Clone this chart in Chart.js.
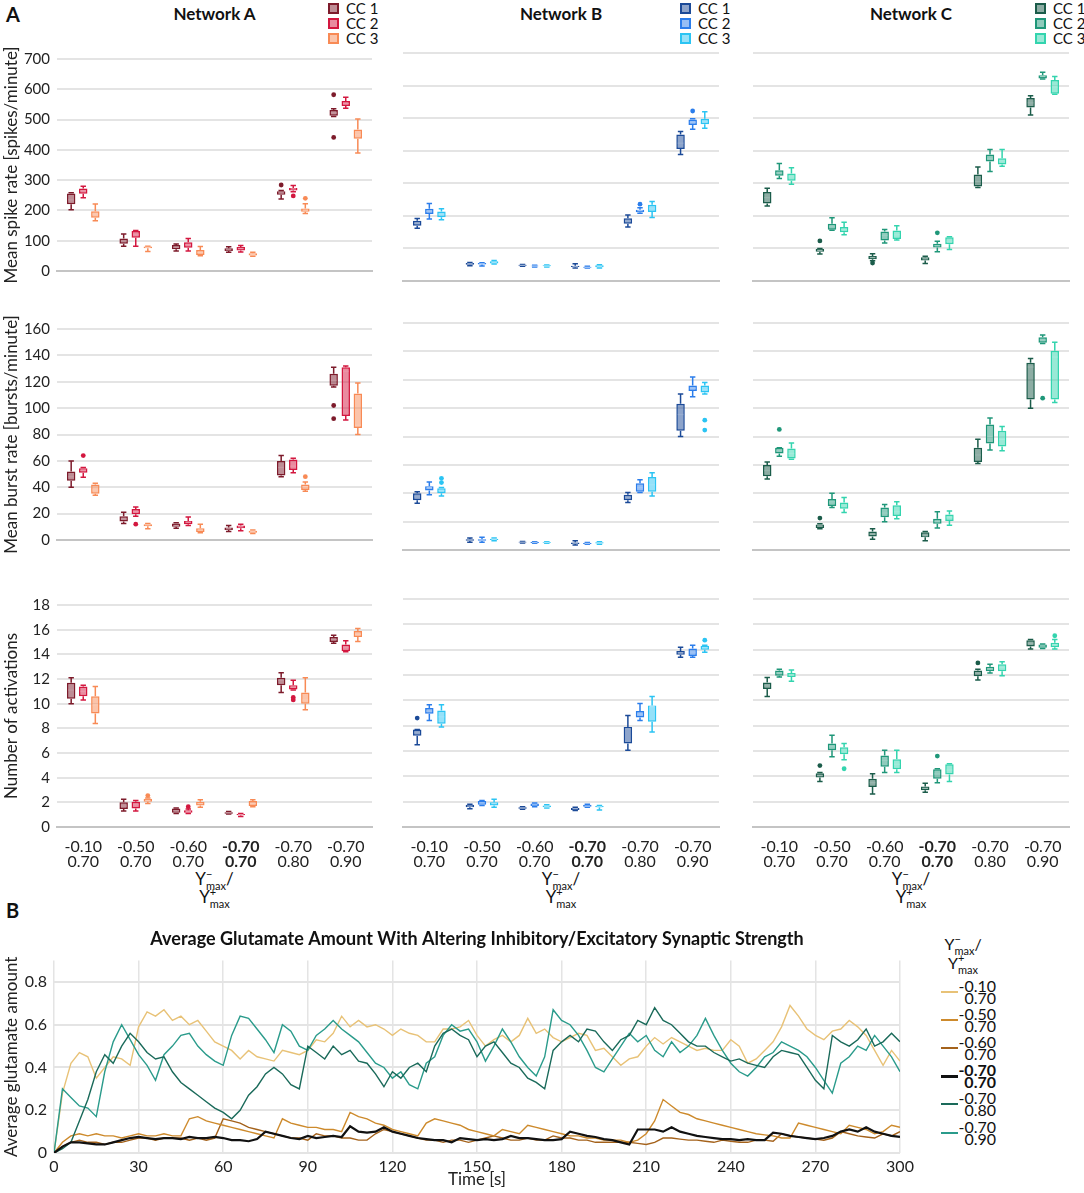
<!DOCTYPE html>
<html>
<head>
<meta charset="utf-8">
<script src="https://cdn.jsdelivr.net/npm/chart.js@4.4.0/dist/chart.umd.min.js"></script>
<style>
  body { margin: 0; background: #fff; font-family: Lato, 'DejaVu Sans', sans-serif; color: #111; }
  #page { position: relative; width: 1084px; height: 1193px; overflow: hidden; }
  #page canvas, #page .abs { position: absolute; }
  .letter { font-size: 20px; font-weight: bold; }
  .net { width: 200px; text-align: center; font-size: 17px; font-weight: bold; }
  .ccleg { font-size: 15px; line-height: 15px; width: 60px; }
  .ccleg div { height: 15px; white-space: nowrap; }
  .ccleg span { display: inline-block; width: 7px; height: 7px; border: 2px solid; margin-right: 7px; vertical-align: 0; }
  .ratio { width: 120px; text-align: center; font-size: 17px; line-height: 18px; }
  .yl { position: relative; display: inline-block; }
  .yl i { position: absolute; left: 100%; top: -5px; font-style: normal; font-size: 11px; }
  sub { font-size: 11px; vertical-align: -5px; line-height: 0; }
  .gleg { font-size: 16px; }
  .gleg .row { position: absolute; left: 0; width: 80px; height: 26px; }
  .gleg .ln { position: absolute; left: 0; top: 12px; width: 17px; height: 2px; }
  .gleg .tx { position: absolute; left: 17px; width: 38px; text-align: right; line-height: 12px; top: 1px; }
</style>
</head>
<body>
<div id="page"></div>
<script>
/* ── categories & names ── */
const ratioLabels = [['-0.10', '0.70'], ['-0.50', '0.70'], ['-0.60', '0.70'], ['-0.70', '0.70'], ['-0.70', '0.80'], ['-0.70', '0.90']];
const ccNames = ['CC 1', 'CC 2', 'CC 3'];
const networkNames = ['Network A', 'Network B', 'Network C'];
const rowTitles = ['Mean spike rate [spikes/minute]', 'Mean burst rate [bursts/minute]', 'Number of activations'];
const rowMax = [700, 160, 18];
const rowStep = [100, 20, 2];

/* ── box summaries [min, q1, median, q3, max], per CC, per ratio ── */
const spikeA = [
  [[202,220,235,256,258], [82,90,99,107,122], [66,72,78,86,89], [62,66,70,75,80], [238,252,258,263,266], [510,513,522,532,536]],
  [[242,255,265,272,280], [82,110,120,132,134], [66,77,87,95,107], [63,68,74,79,84], [262,266,271,274,282], [537,545,553,561,574]],
  [[166,176,188,197,221], [64,75,78,81,82], [50,53,61,69,81], [49,51,55,59,62], [190,196,201,206,222], [390,437,450,467,502]]
];
const spikeAOut = [[[],[],[],[],[284],[582,441]], [[],[],[],[],[248],[]], [[],[],[],[],[240],[]]];

const spikeB = [
  [[162,170,177,185,192], [47,50,53,55,57], [45,47,48,50,51], [40,43,44,47,53], [166,176,184,193,203], [388,405,423,450,459]],
  [[190,206,214,222,238], [46,51,53,55,56], [43,45,46,47,48], [40,41,42,44,45], [208,211,216,219,225], [466,479,487,496,498]],
  [[188,196,204,213,222], [52,54,57,61,63], [43,45,46,48,49], [40,42,45,48,50], [195,212,222,234,244], [469,481,489,498,520]]
];
const spikeBOut = [[[],[],[],[],[],[]], [[],[],[],[],[236],[522]], [[],[],[],[],[],[]]];

const spikeC = [
  [[230,238,256,273,285], [83,90,94,98,100], [62,67,72,77,84], [54,63,68,73,76], [287,290,305,327,350], [510,533,547,562,569]],
  [[315,323,332,340,361], [156,157,168,176,194], [117,124,140,152,158], [90,103,108,114,122], [336,367,376,388,404], [620,622,628,632,641]],
  [[297,308,320,330,348], [142,150,158,166,180], [126,129,142,155,170], [97,113,122,134,136], [352,358,369,377,404], [573,575,596,617,628]]
];
const spikeCOut = [[[],[123],[55],[],[],[]], [[],[],[],[148],[],[]], [[],[],[],[],[],[]]];

const burstA = [
  [[40,45,48,52,60], [12.5,14,16,18,21], [9,10,11,12.5,13], [6.5,7.5,8.5,9.5,11], [48,49,55,60,64], [116,117,121,126,131]],
  [[47.5,51,53,54.5,55], [18,19.5,21.5,23.5,25], [11,12,13.5,14.5,17.5], [7,9,10,11,12], [51,53,56,61,62], [91,94,128,131,132]],
  [[34,35,38,42,43], [8.5,10.5,11.5,12,12.5], [5.5,6,7.5,9,12], [5,5.5,6.5,7,7.5], [37,38,40.5,42,44], [80,85,87,111,119]]
];
const burstAOut = [[[],[],[],[],[],[102,92]], [[64],[12],[],[],[],[]], [[],[],[],[],[48],[]]];

const burstB = [
  [[33,35,37.5,40,41], [5.5,6.5,7,7.5,8.5], [5,5.2,5.5,5.8,6], [3.5,4.2,4.8,5.2,6.5], [33.5,35,37,39,40.5], [80,84,95.5,103,110]],
  [[39,42,44,45,48], [5.5,6.5,7,7.5,9], [4.8,5,5.3,5.6,5.8], [4,4.3,4.6,5,5.2], [40.5,41,44,47,49.5], [108,112,114,116,122]],
  [[38,40,42,43.5,44], [6.5,7,7.5,8,8.5], [4.8,5,5.3,5.5,5.8], [4,4.5,5,5.5,5.8], [38,41,46,51.5,54.5], [110,111,113,116,118]]
];
const burstBOut = [[[],[],[],[],[],[]], [[],[],[],[],[],[]], [[50.5,47.5],[],[],[],[],[91.5,84.5]]];

const burstC = [
  [[50,52,56,60,62], [15,15.5,17,18,18.5], [7.5,9.5,11,13,15], [6.5,9,10,12.5,13], [61,62,67,72,78], [100,106,129,132,135]],
  [[66,68,70,72,72], [30,31,34,36,40], [20,23,26,30,32], [15.5,18.5,20,22,27], [70.5,75,80,88.5,93], [145.5,146,148,150,151.5]],
  [[64,64.5,68,71.5,75.5], [26.5,29,31,33.5,37], [22,24,27,31.5,34], [17.5,20.5,23,25,27.5], [70,73,78,84,87], [104,106,136,140.5,146.5]]
];
const burstCOut = [[[],[22.5],[],[],[],[]], [[85],[],[],[],[],[107]], [[],[],[],[],[],[]]];

const actA = [
  [[10,10.4,11.1,11.7,12.1], [1.3,1.45,1.7,2,2.25], [1.1,1.15,1.3,1.5,1.55], [1.05,1.07,1.15,1.2,1.25], [10.9,11.5,11.9,12.1,12.5], [14.9,15,15.2,15.4,15.55]],
  [[10.3,10.6,11,11.4,11.5], [1.3,1.5,1.8,2.05,2.15], [1.1,1.15,1.25,1.35,1.45], [0.85,0.95,1,1.05,1.1], [11.1,11.15,11.35,11.5,11.9], [14.2,14.25,14.55,14.8,15.1]],
  [[8.4,9.2,9.9,10.6,11.4], [1.9,2.05,2.15,2.3,2.35], [1.6,1.75,1.9,2.05,2.2], [1.65,1.7,1.9,2.1,2.2], [9.5,10,10.3,10.9,12.1], [15.05,15.4,15.6,15.9,16.1]]
];
const actAOut = [[[],[],[],[],[],[]], [[],[],[1.65],[],[10.5,10.3],[]], [[],[2.55],[],[],[],[]]];

const actB = [
  [[6.5,7.2,7.45,7.7,7.7], [1.45,1.55,1.65,1.75,1.8], [1.4,1.45,1.5,1.55,1.6], [1.3,1.35,1.45,1.5,1.55], [6.05,6.6,7.75,7.9,8.8], [13.4,13.6,13.75,13.9,14.2]],
  [[8.4,8.95,9.15,9.4,9.65], [1.7,1.75,1.9,2.05,2.1], [1.6,1.65,1.75,1.85,1.9], [1.55,1.6,1.65,1.75,1.8], [8.4,8.65,8.9,9.15,9.75], [13.4,13.5,13.8,14.1,14.35]],
  [[7.9,8.15,8.7,9.2,9.65], [1.55,1.7,1.85,1.95,2.2], [1.5,1.55,1.6,1.7,1.75], [1.35,1.55,1.6,1.65,1.7], [7.5,8.3,9.5,9.6,10.3], [13.8,14,14.15,14.3,14.35]]
];
const actBOut = [[[8.6],[],[],[],[],[]], [[],[],[],[],[],[]], [[],[],[],[],[],[14.75]]];

const actC = [
  [[10.3,10.9,11.15,11.4,11.8], [3.6,3.9,4.05,4.25,4.3], [2.6,3.15,3.5,3.8,4.2], [2.75,2.9,3.05,3.2,3.45], [11.6,11.9,12.15,12.35,12.45], [14.05,14.25,14.5,14.75,14.8]],
  [[11.85,11.95,12.15,12.35,12.45], [5.55,6.05,6.35,6.6,7.25], [4.3,4.75,5.25,5.65,6.05], [3.5,3.8,4.2,4.55,4.6], [12.15,12.3,12.5,12.65,12.85], [14.1,14.15,14.3,14.4,14.45]],
  [[11.5,11.85,12,12.15,12.4], [5.3,5.75,6,6.3,6.6], [4.3,4.55,4.95,5.35,6.05], [3.6,4.15,4.5,4.95,5], [11.95,12.3,12.6,12.85,13.05], [14.05,14.2,14.4,14.55,14.8]]
];
const actCOut = [[[],[4.85],[],[],[12.95],[]], [[],[],[],[5.6],[],[]], [[],[4.6],[],[],[],[15.1]]];

/* ── glutamate traces, one sample every 3 s from 0 to 300 s ── */
const sampleStep = 3;
const glutTicks = [0, 0.2, 0.4, 0.6, 0.8];
const glutLabels = [['-0.10', '0.70'], ['-0.50', '0.70'], ['-0.60', '0.70'], ['-0.70', '0.70'], ['-0.70', '0.80'], ['-0.70', '0.90']];
const glutM10 = [
  0, 0.28, 0.42, 0.47, 0.45, 0.35, 0.40, 0.45, 0.44, 0.41,
  0.59, 0.66, 0.64, 0.67, 0.62, 0.64, 0.60, 0.62, 0.57, 0.52,
  0.50, 0.48, 0.44, 0.48, 0.45, 0.44, 0.43, 0.48, 0.47, 0.46,
  0.48, 0.53, 0.52, 0.56, 0.64, 0.59, 0.62, 0.59, 0.60, 0.58,
  0.55, 0.58, 0.56, 0.55, 0.52, 0.52, 0.58, 0.58, 0.59, 0.62,
  0.55, 0.50, 0.53, 0.55, 0.52, 0.55, 0.63, 0.56, 0.58, 0.54,
  0.52, 0.54, 0.56, 0.55, 0.48, 0.49, 0.45, 0.41, 0.44, 0.45,
  0.50, 0.54, 0.51, 0.54, 0.52, 0.50, 0.48, 0.49, 0.48, 0.48,
  0.53, 0.50, 0.42, 0.44, 0.48, 0.52, 0.59, 0.69, 0.64, 0.58,
  0.55, 0.53, 0.57, 0.58, 0.62, 0.59, 0.55, 0.48, 0.41, 0.48,
  0.43
];
const glutM50 = [
  0, 0.05, 0.08, 0.09, 0.08, 0.09, 0.08, 0.08, 0.07, 0.08,
  0.09, 0.08, 0.08, 0.09, 0.08, 0.08, 0.16, 0.17, 0.15, 0.14,
  0.13, 0.12, 0.11, 0.10, 0.09, 0.08, 0.07, 0.16, 0.14, 0.13,
  0.12, 0.12, 0.11, 0.11, 0.10, 0.19, 0.17, 0.16, 0.14, 0.13,
  0.11, 0.10, 0.09, 0.08, 0.14, 0.16, 0.15, 0.14, 0.13, 0.11,
  0.10, 0.09, 0.08, 0.11, 0.10, 0.09, 0.13, 0.12, 0.11, 0.10,
  0.09, 0.08, 0.08, 0.07, 0.07, 0.06, 0.06, 0.06, 0.05, 0.06,
  0.09, 0.15, 0.25, 0.22, 0.19, 0.18, 0.16, 0.15, 0.14, 0.13,
  0.12, 0.11, 0.10, 0.09, 0.085, 0.08, 0.07, 0.07, 0.14, 0.13,
  0.12, 0.11, 0.10, 0.09, 0.13, 0.12, 0.11, 0.09, 0.10, 0.13,
  0.12
];
const glutM60 = [
  0, 0.03, 0.05, 0.06, 0.05, 0.05, 0.04, 0.05, 0.05, 0.06,
  0.07, 0.07, 0.06, 0.07, 0.07, 0.07, 0.06, 0.07, 0.06, 0.07,
  0.16, 0.15, 0.14, 0.12, 0.11, 0.10, 0.09, 0.08, 0.07, 0.07,
  0.06, 0.09, 0.08, 0.08, 0.07, 0.07, 0.06, 0.06, 0.09, 0.11,
  0.10, 0.09, 0.08, 0.07, 0.06, 0.06, 0.05, 0.06, 0.06, 0.05,
  0.06, 0.07, 0.08, 0.07, 0.06, 0.06, 0.07, 0.06, 0.06, 0.08,
  0.07, 0.07, 0.06, 0.06, 0.05, 0.05, 0.05, 0.05, 0.05, 0.045,
  0.04, 0.05, 0.07, 0.07, 0.065, 0.06, 0.06, 0.055, 0.05, 0.06,
  0.055, 0.05, 0.05, 0.06, 0.06, 0.055, 0.09, 0.08, 0.075, 0.07,
  0.065, 0.06, 0.07, 0.10, 0.09, 0.08, 0.075, 0.07, 0.09, 0.08,
  0.10
];
const glutM70 = [
  0, 0.03, 0.05, 0.05, 0.045, 0.04, 0.04, 0.05, 0.06, 0.07,
  0.075, 0.07, 0.065, 0.07, 0.07, 0.065, 0.075, 0.07, 0.07, 0.075,
  0.07, 0.06, 0.06, 0.055, 0.065, 0.10, 0.09, 0.08, 0.07, 0.065,
  0.08, 0.07, 0.075, 0.08, 0.075, 0.125, 0.10, 0.095, 0.10, 0.12,
  0.10, 0.09, 0.08, 0.07, 0.065, 0.06, 0.06, 0.05, 0.07, 0.065,
  0.06, 0.065, 0.06, 0.065, 0.08, 0.07, 0.07, 0.065, 0.06, 0.06,
  0.065, 0.10, 0.09, 0.08, 0.075, 0.065, 0.06, 0.05, 0.04, 0.11,
  0.11, 0.11, 0.10, 0.12, 0.10, 0.09, 0.08, 0.075, 0.07, 0.065,
  0.065, 0.06, 0.065, 0.06, 0.06, 0.095, 0.09, 0.08, 0.075, 0.07,
  0.065, 0.07, 0.08, 0.10, 0.11, 0.10, 0.12, 0.10, 0.09, 0.08,
  0.075
];
const glutM70p80 = [
  0, 0.02, 0.05, 0.15, 0.25, 0.38, 0.46, 0.42, 0.50, 0.56,
  0.52, 0.47, 0.44, 0.45, 0.38, 0.33, 0.30, 0.27, 0.24, 0.21,
  0.19, 0.16, 0.20, 0.27, 0.31, 0.37, 0.40, 0.37, 0.32, 0.30,
  0.50, 0.47, 0.44, 0.50, 0.46, 0.48, 0.43, 0.42, 0.37, 0.31,
  0.38, 0.35, 0.40, 0.42, 0.38, 0.50, 0.56, 0.58, 0.55, 0.53,
  0.45, 0.50, 0.52, 0.47, 0.42, 0.40, 0.35, 0.33, 0.30, 0.48,
  0.52, 0.55, 0.52, 0.58, 0.57, 0.52, 0.48, 0.53, 0.55, 0.62,
  0.60, 0.68, 0.62, 0.60, 0.56, 0.52, 0.50, 0.50, 0.47, 0.45,
  0.43, 0.44, 0.42, 0.41, 0.40, 0.45, 0.48, 0.47, 0.46, 0.40,
  0.34, 0.30, 0.55, 0.52, 0.50, 0.53, 0.58, 0.50, 0.52, 0.56,
  0.52
];
const glutM70p90 = [
  0, 0.30, 0.26, 0.22, 0.21, 0.17, 0.38, 0.52, 0.60, 0.53,
  0.46, 0.41, 0.34, 0.46, 0.50, 0.55, 0.56, 0.50, 0.46, 0.43,
  0.41, 0.55, 0.64, 0.63, 0.58, 0.53, 0.47, 0.60, 0.57, 0.50,
  0.48, 0.55, 0.58, 0.62, 0.58, 0.55, 0.52, 0.47, 0.42, 0.40,
  0.35, 0.38, 0.32, 0.30, 0.42, 0.45, 0.55, 0.60, 0.57, 0.58,
  0.52, 0.43, 0.50, 0.58, 0.52, 0.45, 0.40, 0.36, 0.45, 0.67,
  0.62, 0.60, 0.55, 0.48, 0.40, 0.38, 0.44, 0.50, 0.56, 0.52,
  0.55, 0.48, 0.45, 0.52, 0.47, 0.50, 0.55, 0.63, 0.55, 0.48,
  0.42, 0.38, 0.36, 0.40, 0.45, 0.47, 0.52, 0.50, 0.48, 0.45,
  0.40, 0.34, 0.28, 0.42, 0.45, 0.50, 0.48, 0.55, 0.50, 0.45,
  0.38
];

/* ── styling / layout ── */
const netColors = [
  ['#7D1B2B', '#D3173F', '#F88A55'],
  ['#1B4A98', '#2B7DEB', '#2BC4F3'],
  ['#1B5C4A', '#1F9779', '#33D4AE']
];
const glutColors = ['#E8C277', '#CD8A2C', '#A4621B', '#111111', '#1A6A5A', '#2A9B8B'];
const colPlot = [[57, 372], [403, 719], [753, 1069]];
const rowPlot = [[53, 281], [323, 550], [599, 827]];

Chart.defaults.font.family = "Lato, 'DejaVu Sans', sans-serif";
Chart.defaults.color = '#222';

const page = document.getElementById('page');
function addDiv(cls, style, html) {
  const d = document.createElement('div');
  d.className = 'abs ' + cls;
  Object.assign(d.style, style);
  d.innerHTML = html;
  page.appendChild(d);
  return d;
}
function addCanvas(left, top, w, h) {
  const c = document.createElement('canvas');
  c.width = w; c.height = h;
  Object.assign(c.style, { left: left + 'px', top: top + 'px', width: w + 'px', height: h + 'px' });
  page.appendChild(c);
  return c;
}
const rgba = (hex, a) => {
  const n = parseInt(hex.slice(1), 16);
  return `rgba(${n >> 16},${(n >> 8) & 255},${n & 255},${a})`;
};
const tint = (hex, t) => {
  const n = parseInt(hex.slice(1), 16);
  const m = v => Math.round(v + (255 - v) * t);
  return `rgb(${m(n >> 16)},${m((n >> 8) & 255)},${m(n & 255)})`;
};
const yMaxHtml = (sign) => `<span class="yl">Y<i>${sign}</i></span><sub>max</sub>`;

/* whiskers, caps, medians and outliers on top of the floating bars */
const boxPlugin = {
  id: 'boxWhiskers',
  afterDatasetsDraw(chart) {
    const { ctx } = chart;
    const y = chart.scales.y;
    chart.data.datasets.forEach((ds, i) => {
      chart.getDatasetMeta(i).data.forEach((bar, j) => {
        const [lo, q1, med, q3, hi] = ds.stats[j];
        const x = bar.x, half = bar.width / 2, cap = bar.width * 0.32;
        ctx.save();
        ctx.strokeStyle = ds.borderColor;
        ctx.lineWidth = 1.5;
        ctx.beginPath();
        ctx.moveTo(x, y.getPixelForValue(q3)); ctx.lineTo(x, y.getPixelForValue(hi));
        ctx.moveTo(x - cap, y.getPixelForValue(hi)); ctx.lineTo(x + cap, y.getPixelForValue(hi));
        ctx.moveTo(x, y.getPixelForValue(q1)); ctx.lineTo(x, y.getPixelForValue(lo));
        ctx.moveTo(x - cap, y.getPixelForValue(lo)); ctx.lineTo(x + cap, y.getPixelForValue(lo));
        ctx.stroke();
        ctx.strokeStyle = ds.medianColor;
        ctx.lineWidth = 1.3;
        ctx.beginPath();
        ctx.moveTo(x - half + 1.5, y.getPixelForValue(med)); ctx.lineTo(x + half - 1.5, y.getPixelForValue(med));
        ctx.stroke();
        ctx.fillStyle = ds.borderColor;
        ds.outliers[j].forEach(v => {
          ctx.beginPath();
          ctx.arc(x, y.getPixelForValue(v), 2.4, 0, Math.PI * 2);
          ctx.fill();
        });
        ctx.restore();
      });
    });
  }
};

/* ── panel A: 3 × 3 box plots ── */
const panelStats = [[spikeA, spikeB, spikeC], [burstA, burstB, burstC], [actA, actB, actC]];
const panelOut = [[spikeAOut, spikeBOut, spikeCOut], [burstAOut, burstBOut, burstCOut], [actAOut, actBOut, actCOut]];

addDiv('letter', { left: '6px', top: '2px' }, 'A');
addDiv('letter', { left: '6px', top: '898px' }, 'B');

for (let c = 0; c < 3; c++) {
  const [pl, pr] = colPlot[c];
  const mid = (pl + pr) / 2;
  addDiv('net', { left: (mid - 100) + 'px', top: '3px' }, networkNames[c]);
  const legLeft = [328, 680, 1035][c];
  addDiv('ccleg', { left: legLeft + 'px', top: '1px' },
    ccNames.map((n, k) => `<div><span style="border-color:${netColors[c][k]};background:${rgba(netColors[c][k], 0.5)}"></span>${n}</div>`).join(''));
  addDiv('ratio', { left: (mid - 60) + 'px', top: '870px' }, `${yMaxHtml('−')}/<br>${yMaxHtml('+')}`);

  for (let r = 0; r < 3; r++) {
    const [pt, pb] = rowPlot[r];
    const cx = c === 0 ? 0 : pl - 6;
    const yW = pl - cx;
    const padTop = 10, padRight = 8;
    const xH = r === 2 ? 46 : 6;
    const cv = addCanvas(cx, pt - padTop, pr + padRight - cx, pb - pt + padTop + xH);
    const stats = panelStats[r][c], outs = panelOut[r][c];

    new Chart(cv, {
      type: 'bar',
      data: {
        labels: ratioLabels,
        datasets: [0, 1, 2].map(k => ({
          label: ccNames[k],
          data: stats[k].map(s => [s[1], s[3]]),
          stats: stats[k],
          outliers: outs[k],
          backgroundColor: rgba(netColors[c][k], 0.5),
          borderColor: netColors[c][k],
          medianColor: tint(netColors[c][k], 0.55),
          borderWidth: 1.5,
          borderSkipped: false,
          categoryPercentage: 0.69,
          barPercentage: 0.7
        }))
      },
      options: {
        responsive: false,
        animation: false,
        events: [],
        layout: { padding: { top: padTop, right: padRight, left: 0, bottom: 0 }, autoPadding: false },
        plugins: { legend: { display: false }, tooltip: { enabled: false } },
        scales: {
          x: {
            grid: { display: false },
            border: { color: '#c4c4c4', width: 2 },
            ticks: {
              display: r === 2,
              padding: 5,
              color: '#222',
              font: ctx => ({ size: 16, lineHeight: 0.9, weight: ctx.index === 3 ? 'bold' : 'normal' })
            },
            afterFit: s => { s.height = xH; }
          },
          y: {
            min: 0,
            max: rowMax[r],
            grid: { color: '#e4e4e4', lineWidth: 2, drawTicks: false },
            border: { display: false },
            ticks: { display: c === 0, stepSize: rowStep[r], padding: 7, font: { size: 15 }, color: '#222' },
            title: { display: c === 0, text: rowTitles[r], font: { size: 17 }, color: '#222', padding: { top: 1, bottom: 0 } },
            afterFit: s => { s.width = yW; }
          }
        }
      },
      plugins: [boxPlugin]
    });
  }
}

/* ── panel B: glutamate traces ── */
const glutSeries = [glutM10, glutM50, glutM60, glutM70, glutM70p80, glutM70p90];
const glutOrder = [3, 2, 2, 0, 1, 1];
const lc = addCanvas(0, 928, 920, 265);
new Chart(lc, {
  type: 'line',
  data: {
    datasets: glutSeries.map((vals, k) => ({
      label: glutLabels[k].join('/'),
      data: vals.map((v, i) => ({ x: i * sampleStep, y: v })),
      borderColor: glutColors[k],
      borderWidth: k === 3 ? 2.2 : 1.4,
      pointRadius: 0,
      tension: 0,
      order: glutOrder[k]
    }))
  },
  options: {
    responsive: false,
    animation: false,
    events: [],
    layout: { padding: { top: 0, right: 20, left: 0, bottom: 0 }, autoPadding: false },
    plugins: {
      legend: { display: false },
      tooltip: { enabled: false },
      title: {
        display: true,
        text: 'Average Glutamate Amount With Altering Inhibitory/Excitatory Synaptic Strength',
        fullSize: false,
        color: '#111',
        font: { size: 18, weight: 'bold' },
        padding: { top: 0, bottom: 11 }
      }
    },
    scales: {
      x: {
        type: 'linear', min: 0, max: 300,
        ticks: { stepSize: 30, padding: 4, font: { size: 16 }, color: '#222' },
        grid: { color: '#e4e4e4', lineWidth: 1.5, drawTicks: false },
        border: { display: false },
        title: { display: true, text: 'Time [s]', font: { size: 17 }, color: '#222', padding: { top: 0, bottom: 3 } },
        afterFit: s => { s.height = 40; }
      },
      y: {
        min: 0, max: 0.9,
        afterBuildTicks: s => { s.ticks = glutTicks.map(v => ({ value: v })); },
        ticks: { padding: 7, font: { size: 16 }, color: '#222', callback: v => (v === 0 ? '0' : v.toFixed(1)) },
        grid: { color: '#e4e4e4', lineWidth: 2, drawTicks: false },
        border: { display: false },
        title: { display: true, text: 'Average glutamate amount', font: { size: 17 }, color: '#222', padding: { top: 1, bottom: 0 } },
        afterFit: s => { s.width = 54; }
      }
    }
  }
});

/* legend for panel B */
const gleg = addDiv('gleg', { left: '941px', top: '934px', width: '140px', height: '220px' },
  `<div class="abs ratio" style="left:-8px;top:0;width:60px;font-size:16px;line-height:19px">${yMaxHtml('−')}/<br>${yMaxHtml('+')}</div>`);
glutLabels.forEach((lab, k) => {
  const bold = k === 3 ? 'font-weight:bold;' : '';
  gleg.insertAdjacentHTML('beforeend',
    `<div class="row" style="top:${45 + k * 28.1}px"><div class="ln" style="background:${glutColors[k]};${k === 3 ? 'height:2.5px;' : ''}"></div>` +
    `<div class="tx" style="${bold}">${lab[0]}<br>${lab[1]}</div></div>`);
});
</script>
</body>
</html>
